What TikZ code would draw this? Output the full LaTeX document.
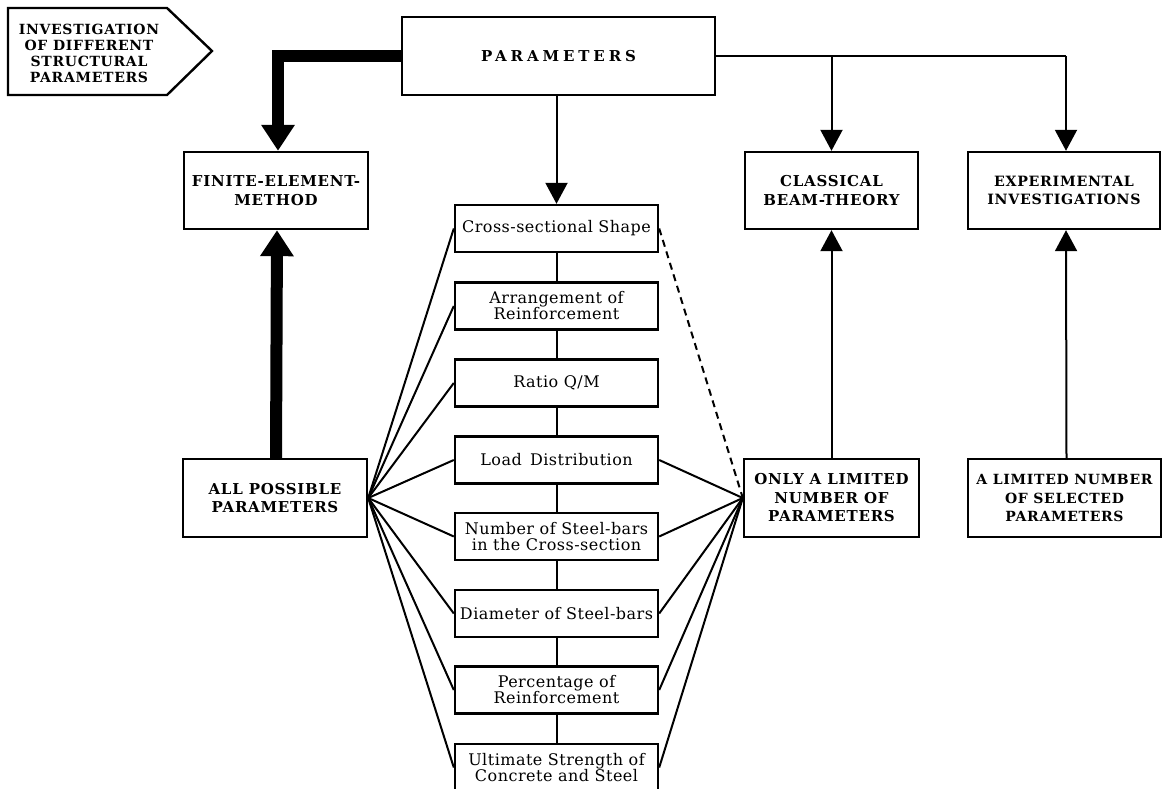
\documentclass[tikz,border=0pt]{standalone}
\usepackage{fontspec}
\setmainfont{DejaVu Serif}
\newfontfamily\capsfont[LetterSpace=5]{DejaVu Serif}
\newfontfamily\lcfont[LetterSpace=3]{DejaVu Serif}
\usetikzlibrary{arrows.meta}
\tikzset{
  boxline/.style={line width=2.4pt, line join=miter},
  box/.style={draw, boxline, inner sep=0pt, align=center, anchor=center},
  capsbox/.style={box, font=\capsfont\bfseries\fontsize{15}{18.5}\selectfont},
  midbox/.style={box, font=\lcfont\fontsize{16}{16}\selectfont, minimum width=203pt, minimum height=47pt},
  conn/.style={line width=2pt},
  arr/.style={conn, -{Triangle[width=22pt,length=21pt]}},
  fatarr/.style={line width=12pt, line join=miter, -{Triangle[width=32pt,length=26pt]}},
  dashconn/.style={conn, dash pattern=on 7pt off 5pt}
}
\begin{document}
\begin{tikzpicture}[x=1pt,y=-1pt]
\clip (0,0) rectangle (1163,789);
\fill[white] (0,0) rectangle (1163,789);
% title pentagon
\node[font=\capsfont\bfseries\fontsize{14}{16}\selectfont, align=center, inner sep=0pt] (inv) at (89,53)
  {INVESTIGATION\\OF DIFFERENT\\STRUCTURAL\\PARAMETERS};
\draw[boxline] ([xshift=-81pt,yshift=-42pt]inv.center) -- ([xshift=78pt,yshift=-42pt]inv.center)
  -- ([xshift=123pt,yshift=2pt]inv.center) -- ([xshift=78pt,yshift=45pt]inv.center)
  -- ([xshift=-81pt,yshift=45pt]inv.center) -- cycle;
% top row
\node[capsbox, minimum width=313pt, minimum height=78pt,
      font=\capsfont\bfseries\fontsize{15}{18}\selectfont\addfontfeature{LetterSpace=26}] (params) at (558.5,56) {PARAMETERS};
\node[capsbox, minimum width=184pt, minimum height=77pt] (fem) at (276,190.5) {FINITE-ELEMENT-\\METHOD};
\node[capsbox, minimum width=173pt, minimum height=77pt] (classical) at (831.5,190.5) {CLASSICAL\\BEAM-THEORY};
\node[capsbox, minimum width=192pt, minimum height=77pt,
      font=\capsfont\bfseries\fontsize{14.2}{18.5}\selectfont] (exper) at (1064,190.5) {EXPERIMENTAL\\INVESTIGATIONS};
% lower row
\node[capsbox, minimum width=184pt, minimum height=78pt] (allp) at (275,498) {ALL POSSIBLE\\PARAMETERS};
\node[capsbox, minimum width=175pt, minimum height=78pt] (only) at (831.5,498) {ONLY A LIMITED\\NUMBER OF\\PARAMETERS};
\node[capsbox, minimum width=193pt, minimum height=78pt,
      font=\capsfont\bfseries\fontsize{14}{18.5}\selectfont] (alim) at (1064.5,498) {A LIMITED NUMBER\\OF SELECTED\\PARAMETERS};
% middle column
\node[midbox] (cs) at (556.5,228.5) {Cross-sectional Shape};
\node[midbox] (ar) at (556.5,306) {Arrangement of\\Reinforcement};
\node[midbox] (rq) at (556.5,383) {Ratio Q/M};
\node[midbox] (ld) at (556.5,460) {Load\, Distribution};
\node[midbox] (nb) at (556.5,536.5) {Number of Steel-bars\\in the Cross-section};
\node[midbox] (dm) at (556.5,613.5) {Diameter of Steel-bars};
\node[midbox] (pc) at (556.5,690) {Percentage of\\Reinforcement};
\node[midbox] (us) at (556.5,767.5) {Ultimate Strength of\\Concrete and Steel};
% connectors
\draw[fatarr] (params.west) -| ([xshift=2pt]fem.north);
\draw[fatarr] ([xshift=1pt]allp.north) -- ([xshift=1pt]fem.south);
\draw[arr] (params.south -| cs.north) -- (cs.north);
\coordinate (jc) at (classical.north |- params.east);
\coordinate (je) at ([xshift=2pt]exper.north |- params.east);
\draw[conn] (params.east) -- (je);
\draw[arr] (jc) -- (classical.north);
\draw[arr] (je) -- ([xshift=2pt]exper.north);
\draw[arr] (only.north) -- (classical.south);
\draw[arr] ([xshift=2pt]alim.north) -- ([xshift=2pt]exper.south);
\draw[conn] (cs) -- (ar);
\draw[conn] (ar) -- (rq);
\draw[conn] (rq) -- (ld);
\draw[conn] (ld) -- (nb);
\draw[conn] (nb) -- (dm);
\draw[conn] (dm) -- (pc);
\draw[conn] (pc) -- (us);
\foreach \n in {cs,ar,rq,ld,nb,dm,pc,us} \draw[conn] (allp.east) -- (\n.west);
\foreach \n in {ld,nb,dm,pc,us} \draw[conn] (\n.east) -- (only.west);
\draw[dashconn] (cs.east) -- (only.west);
\end{tikzpicture}
\end{document}
